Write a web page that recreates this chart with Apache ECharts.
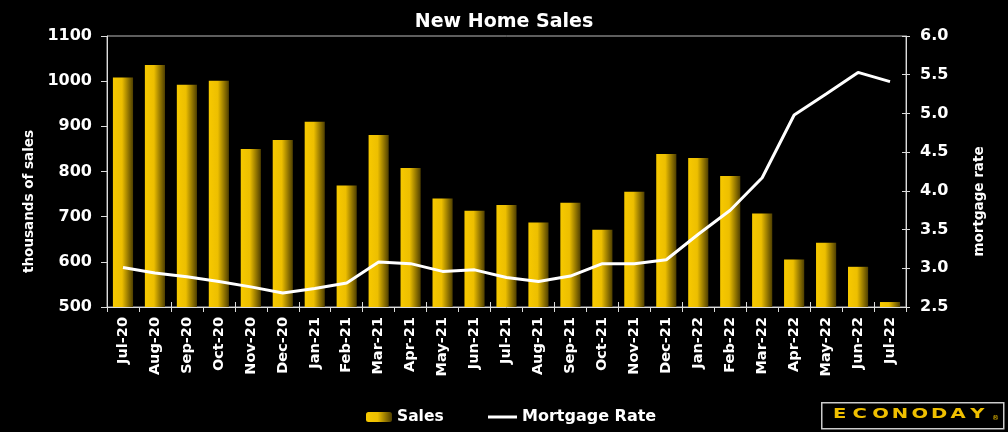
<!DOCTYPE html>
<html>
<head>
<meta charset="utf-8">
<script src="https://cdn.jsdelivr.net/npm/echarts@6/dist/echarts.min.js"></script>
<style>
html,body{margin:0;padding:0;background:#000;}
#c{width:1008px;height:432px;}
</style>
</head>
<body>
<div id="c"></div>
<script>
const categories = ['Jul-20','Aug-20','Sep-20','Oct-20','Nov-20','Dec-20','Jan-21','Feb-21','Mar-21','Apr-21','May-21','Jun-21','Jul-21','Aug-21','Sep-21','Oct-21','Nov-21','Dec-21','Jan-22','Feb-22','Mar-22','Apr-22','May-22','Jun-22','Jul-22'];
const sales = [1008,1036,992,1001,850,870,910,769,881,808,740,713,726,687,731,671,755,839,830,790,707,605,642,589,511];
const mortgageRate = [3.01,2.94,2.89,2.83,2.76,2.68,2.74,2.81,3.08,3.06,2.96,2.98,2.88,2.83,2.90,3.06,3.06,3.11,3.44,3.75,4.17,4.98,5.25,5.53,5.41];
const logoLetters = ['E','C','O','N','O','D','A','Y'];

const FONT = 'DejaVu Sans';
const chart = echarts.init(document.getElementById('c'));
function grad(){
  return new echarts.graphic.LinearGradient(0,0,1,0,[
    {offset:0,color:'#F7C900'},
    {offset:0.45,color:'#EDBF00'},
    {offset:1,color:'#4F3F00'}
  ]);
}
const axisColor = '#ddd';
const logoGraphics = [
  {type:'rect',left:821,top:402,shape:{width:182,height:26},style:{fill:'#000',stroke:'#ccc',lineWidth:1.5}}
];
logoLetters.forEach((ch,i)=>{
  logoGraphics.push({type:'text',x:833+i*19.6,y:407,scaleX:1.4,style:{text:ch,fill:'#F0C000',font:'bold 14px "DejaVu Sans"'}});
});
logoGraphics.push({type:'text',x:992,y:415,style:{text:'®',fill:'#F0C000',font:'7px "DejaVu Sans"'}});

chart.setOption({
  backgroundColor:'#000',
  animation:false,
  title:{text:'New Home Sales',left:'center',top:8,
    textStyle:{color:'#fff',fontFamily:FONT,fontWeight:'bold',fontSize:19}},
  grid:{left:107,right:102,top:36,bottom:125,show:true,borderColor:'#bbb',borderWidth:1,backgroundColor:'transparent'},
  legend:[
    {data:[{name:'Sales',itemStyle:{color:grad()}}],left:361,top:404,itemWidth:26,itemHeight:10,
      textStyle:{color:'#fff',fontFamily:FONT,fontWeight:'bold',fontSize:15.5}},
    {data:[{name:'Mortgage Rate',icon:'rect'}],left:483,top:404,itemWidth:29,itemHeight:3,
      textStyle:{color:'#fff',fontFamily:FONT,fontWeight:'bold',fontSize:16}}
  ],
  xAxis:[
    {type:'category',data:categories,boundaryGap:true,
      axisLine:{lineStyle:{color:axisColor,width:1}},
      axisTick:{show:true,length:5,lineStyle:{color:axisColor}},
      axisLabel:{rotate:90,interval:0,color:'#fff',fontFamily:FONT,fontWeight:'bold',fontSize:14.5,margin:10}},
    {type:'category',data:categories,boundaryGap:true,position:'bottom',
      axisLine:{show:false},
      axisTick:{show:true,inside:true,length:5,lineStyle:{color:axisColor}},
      axisLabel:{show:false}}
  ],
  yAxis:[
    {type:'value',min:500,max:1100,interval:100,name:'thousands of sales',nameLocation:'middle',nameGap:70,
      nameTextStyle:{color:'#fff',fontFamily:FONT,fontWeight:'bold',fontSize:13.5,padding:[0,60,0,0]},
      axisLine:{show:true,lineStyle:{color:axisColor}},
      axisTick:{show:true,length:6,lineStyle:{color:axisColor}},
      splitLine:{show:false},
      axisLabel:{color:'#fff',fontFamily:FONT,fontWeight:'bold',fontSize:16,margin:15,formatter:v=>String(v)}},
    {type:'value',min:2.5,max:6.0,interval:0.5,name:'mortgage rate',nameLocation:'middle',nameGap:66,nameRotate:90,
      nameTextStyle:{color:'#fff',fontFamily:FONT,fontWeight:'bold',fontSize:13.5,padding:[0,60,0,0]},
      axisLine:{show:true,lineStyle:{color:axisColor}},
      axisTick:{show:true,length:4,lineStyle:{color:axisColor}},
      splitLine:{show:false},
      axisLabel:{color:'#fff',fontFamily:FONT,fontWeight:'bold',fontSize:16,margin:14,formatter:v=>v.toFixed(1)}},
    {type:'value',min:2.5,max:6.0,interval:0.5,position:'right',
      axisLine:{show:false},
      axisTick:{show:true,inside:true,length:4,lineStyle:{color:axisColor}},
      splitLine:{show:false},axisLabel:{show:false}}
  ],
  series:[
    {name:'Sales',type:'bar',data:sales,barCategoryGap:'37%',itemStyle:{color:grad()}},
    {name:'Mortgage Rate',type:'line',yAxisIndex:1,data:mortgageRate,symbol:'none',
      lineStyle:{color:'#fff',width:3},itemStyle:{color:'#fff'}}
  ],
  graphic:logoGraphics
});
</script>
</body>
</html>
